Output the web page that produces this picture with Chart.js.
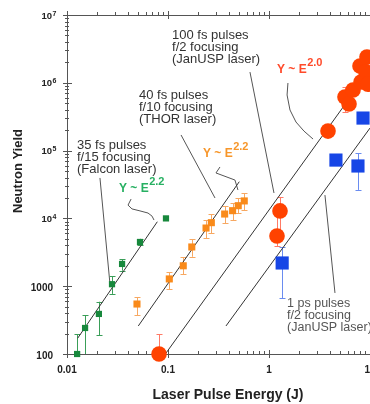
<!DOCTYPE html>
<html><head><meta charset="utf-8">
<script src="https://cdn.jsdelivr.net/npm/chart.js@4.4.1/dist/chart.umd.min.js"></script>
<style>html,body{margin:0;padding:0;background:#fff}#wrap{width:370px;height:404px;position:relative}</style>
</head><body><div id="wrap"><canvas id="c"></canvas></div>
<script>
// ---- data (energy in J, neutron yield) ----
const falconE  = [0.0126, 0.0151, 0.0207, 0.0279, 0.0351, 0.0528, 0.0955];
const falconY  = [100, 242, 390, 1070, 2130, 4490, 10000];
const falconHi = [195, 376, 590, 1410, 2500, 5000, null];
const falconLo = [100, 100, 190, 770, 1690, 4000, null];

const thorE  = [0.0493, 0.103, 0.1416, 0.172, 0.238, 0.2686, 0.364, 0.436, 0.496, 0.569];
const thorY  = [546, 1280, 2000, 3790, 7210, 8650, 11600, 13000, 15400, 18100];
const thorHi = [690, 1620, 2670, 4970, 9460, 11500, 15200, 16700, 19800, 23500];
const thorLo = [376, 910, 1510, 2720, 5080, 6030, 8500, 9460, 11900, 13300];

const jan100E  = [0.0815, 1.2, 1.285, 3.84, 5.65, 6.2, 6.79, 8.15, 7.96, 9.1, 9.33, 9.55];
const jan100Y  = [100, 5500, 12900, 194000, 617000, 487000, 783000, 1030000, 1770000, 1450000, 2400000, 955000];
const jan100Hi = [197, 12900, 20700, null, 870000, null, null, null, null, null, null, null];
const jan100Lo = [null, 3920, 5500, null, 372000, null, null, null, null, null, null, null];

const jan1psE  = [1.35, 4.6, 7.6, 8.53];
const jan1psY  = [2200, 72500, 59300, 302000];
const jan1psHi = [3790, null, 92000, null];
const jan1psLo = [670, null, 26300, null];

// fitted power-law lines (end points)
const falconFitE = [0.01276, 0.0784], falconFitY = [171, 8930];
const thorFitE   = [0.0508, 0.508],   thorFitY   = [259, 34800];
const jan100FitE = [0.0955, 5.45],    jan100FitY = [103, 444000];
const jan1psFitE = [0.375, 10],       jan1psFitY = [259, 215000];

// axis ticks
const xTickVals = [0.01, 0.1, 1, 10];
const xTickLabels = ['0.01', '0.1', '1', '10'];
const yTickVals = [100, 1000, 1e4, 1e5, 1e6, 1e7];
const yTickLabels = [['100', ''], ['1000', ''], ['10', '4'], ['10', '5'], ['10', '6'], ['10', '7']];

const FONT = '"Liberation Sans", Arial, Helvetica, sans-serif';

// annotation texts and leaders (in data coordinates)
const notes = [
  {lines: ['35 fs pulses', 'f/15 focusing', '(Falcon laser)'], at: [0.01256, 107000], size: 13, color: '#333'},
  {lines: ['40 fs pulses', 'f/10 focusing', '(THOR laser)'], at: [0.0516, 577000], size: 13, color: '#333'},
  {lines: ['100 fs pulses', 'f/2 focusing', '(JanUSP laser)'], at: [0.1096, 4.43e6], size: 13, color: '#333'},
  {lines: ['1 ps pulses', 'f/2 focusing', '(JanUSP laser)'], at: [1.51, 494], size: 12.5, color: '#555'}
];
const laws = [
  {base: 'Y ~ E', exp: '2.2', at: [0.0327, 24500], color: '#27b062'},
  {base: 'Y ~ E', exp: '2.2', at: [0.222, 80500], color: '#f7962a'},
  {base: 'Y ~ E', exp: '2.0', at: [1.2, 1.39e6], color: '#ff4a2a'}
];
const leaders = [
  [[0.0212, 39500], [0.0267, 1040]],
  [[0.1346, 170000], [0.292, 20000]],
  [[0.648, 1.44e6], [1.12, 23700]],
  [[3.58, 22100], [4.5, 795]],
  [[0.0431, 19300], [0.0402, 15700], [0.0440, 13800], [0.0528, 12900], [0.0634, 12000], [0.0695, 10800], [0.0727, 9460]],
  [[0.327, 57300], [0.2985, 46800], [0.460, 36800], [0.493, 26200]],
  [[1.54, 993000], [1.51, 661000], [1.614, 397000], [1.85, 264000], [2.22, 194000], [2.73, 148000]]
];

function pts(xs, ys) { return xs.map((x, i) => ({x: x, y: ys[i]})); }

const decor = {
  id: 'decor',
  beforeDatasetsDraw(chart) {
    const c = chart.ctx, X = chart.scales.x, Y = chart.scales.y, a = chart.chartArea;
    c.save();
    // frame
    c.strokeStyle = '#555'; c.lineWidth = 1;
    c.beginPath();
    c.moveTo(a.left + 0.5, a.top + 0.5); c.lineTo(a.left + 0.5, a.bottom + 0.5);
    c.moveTo(a.left, a.bottom + 0.5); c.lineTo(a.right, a.bottom + 0.5);
    c.moveTo(a.left, a.top + 0.5); c.lineTo(a.right, a.top + 0.5);
    c.stroke();
    // ticks
    c.beginPath();
    for (let d = -2; d < 1.5; d++) {
      for (let m = 1; m <= 9; m++) {
        const v = m * Math.pow(10, d);
        if (v < 0.01 || v > 10) continue;
        const px = Math.round(X.getPixelForValue(v)) + 0.5;
        if (m === 1) {
          c.moveTo(px, a.bottom - 4); c.lineTo(px, a.bottom + 4);
          c.moveTo(px, a.top - 4); c.lineTo(px, a.top + 4);
        } else {
          c.moveTo(px, a.bottom - 3); c.lineTo(px, a.bottom + 1);
          c.moveTo(px, a.top - 3); c.lineTo(px, a.top + 1);
        }
      }
    }
    for (let d = 2; d <= 7; d++) {
      for (let m = 1; m <= 9; m++) {
        const v = m * Math.pow(10, d);
        if (v > 1e7) continue;
        const py = Math.round(Y.getPixelForValue(v)) + 0.5;
        if (m === 1) { c.moveTo(a.left - 4, py); c.lineTo(a.left + 5, py); }
        else { c.moveTo(a.left - 2, py); c.lineTo(a.left + 2, py); }
      }
    }
    c.stroke();
    // tick labels
    c.fillStyle = '#222';
    c.font = 'bold 10px ' + FONT;
    c.textAlign = 'center'; c.textBaseline = 'alphabetic';
    xTickVals.forEach((v, i) => c.fillText(xTickLabels[i], X.getPixelForValue(v), a.bottom + 19));
    yTickVals.forEach((v, i) => {
      const py = Y.getPixelForValue(v);
      const [b, e] = yTickLabels[i];
      if (e) {
        c.font = 'bold 9.5px ' + FONT; c.textAlign = 'right';
        c.fillText(b, a.left - 15, py + 3.5);
        c.font = 'bold 7px ' + FONT; c.textAlign = 'left';
        c.fillText(e, a.left - 14.5, py + 0.5);
      } else {
        c.font = 'bold 10px ' + FONT; c.textAlign = 'right';
        c.fillText(b, a.left - 14, py + 4.5);
      }
    });
    // axis titles
    c.font = 'bold 14px ' + FONT; c.textAlign = 'center';
    c.fillText('Laser Pulse Energy (J)', 228, 399);
    c.save(); c.translate(22, 171); c.rotate(-Math.PI / 2);
    c.font = 'bold 13px ' + FONT; c.fillText('Neutron Yield', 0, 0); c.restore();
    // leaders drawn under markers
    c.strokeStyle = '#555'; c.lineWidth = 1;
    leaders.forEach(L => {
      c.beginPath();
      L.forEach((p, i) => {
        const px = X.getPixelForValue(p[0]), py = Y.getPixelForValue(p[1]);
        if (i === 0) c.moveTo(px, py); else c.lineTo(px, py);
      });
      c.stroke();
    });
    // error bars
    chart.data.datasets.forEach(ds => {
      if (!ds.err) return;
      c.strokeStyle = ds.err.color; c.lineWidth = 1;
      c.beginPath();
      ds.data.forEach((p, i) => {
        const hi = ds.err.hi[i], lo = ds.err.lo[i];
        if (hi == null && lo == null) return;
        const px = Math.round(X.getPixelForValue(p.x)) + 0.5;
        const yh = Y.getPixelForValue(hi == null ? p.y : hi);
        const yl = Y.getPixelForValue(lo == null ? p.y : lo);
        c.moveTo(px, yh); c.lineTo(px, yl);
        const w = ds.err.cap;
        if (hi != null) { c.moveTo(px - w, Math.round(yh) + 0.5); c.lineTo(px + w, Math.round(yh) + 0.5); }
        if (lo != null && lo > 100) { c.moveTo(px - w, Math.round(yl) + 0.5); c.lineTo(px + w, Math.round(yl) + 0.5); }
      });
      c.stroke();
    });
    c.restore();
  },
  afterDatasetsDraw(chart) {
    const c = chart.ctx, X = chart.scales.x, Y = chart.scales.y;
    c.save();
    c.textAlign = 'left'; c.textBaseline = 'alphabetic';
    notes.forEach(n => {
      c.fillStyle = n.color; c.font = n.size + 'px ' + FONT;
      const px = X.getPixelForValue(n.at[0]), py = Y.getPixelForValue(n.at[1]);
      n.lines.forEach((t, i) => c.fillText(t, px, py + i * 12));
    });
    laws.forEach(l => {
      c.fillStyle = l.color;
      const px = X.getPixelForValue(l.at[0]), py = Y.getPixelForValue(l.at[1]);
      c.font = 'bold 12px ' + FONT;
      c.fillText(l.base, px, py);
      const w = c.measureText(l.base).width;
      c.font = 'bold 11px ' + FONT;
      c.fillText(l.exp, px + w + 0.5, py - 7);
    });
    c.restore();
  }
};

new Chart(document.getElementById('c'), {
  type: 'scatter',
  data: {datasets: [
    {data: pts(falconE, falconY), pointStyle: 'rect', pointRadius: 4.4, backgroundColor: '#17883c', borderWidth: 0, order: 1, clip: false,
     err: {hi: falconHi, lo: falconLo, color: '#3a9e58', cap: 3}},
    {data: pts(thorE, thorY), pointStyle: 'rect', pointRadius: 5, backgroundColor: '#f98a1a', borderWidth: 0, order: 1, clip: false,
     err: {hi: thorHi, lo: thorLo, color: '#f7a862', cap: 3}},
    {data: pts(jan100E, jan100Y), pointStyle: 'circle', pointRadius: 7.8, backgroundColor: '#ff4200', borderWidth: 0, order: 1, clip: false,
     err: {hi: jan100Hi, lo: jan100Lo, color: '#ff7a66', cap: 3}},
    {data: pts(jan1psE, jan1psY), pointStyle: 'rect', pointRadius: 9.3, backgroundColor: '#1746e6', borderWidth: 0, order: 0, clip: false,
     err: {hi: jan1psHi, lo: jan1psLo, color: '#6a8cf0', cap: 3}},
    {data: pts(falconFitE, falconFitY), showLine: true, pointRadius: 0, borderColor: '#333', borderWidth: 1, order: 10, clip: false},
    {data: pts(thorFitE, thorFitY), showLine: true, pointRadius: 0, borderColor: '#333', borderWidth: 1, order: 10, clip: false},
    {data: pts(jan100FitE, jan100FitY), showLine: true, pointRadius: 0, borderColor: '#333', borderWidth: 1, order: 10, clip: false},
    {data: pts(jan1psFitE, jan1psFitY), showLine: true, pointRadius: 0, borderColor: '#333', borderWidth: 1, order: 10, clip: false}
  ]},
  options: {
    responsive: true, maintainAspectRatio: false, animation: false,
    layout: {autoPadding: false, padding: {left: 67, top: 15, right: 0, bottom: 50}},
    plugins: {legend: {display: false}, tooltip: {enabled: false}},
    scales: {
      x: {type: 'logarithmic', min: 0.01, max: 10, display: false},
      y: {type: 'logarithmic', min: 100, max: 1e7, display: false}
    }
  },
  plugins: [decor]
});
</script></body></html>
